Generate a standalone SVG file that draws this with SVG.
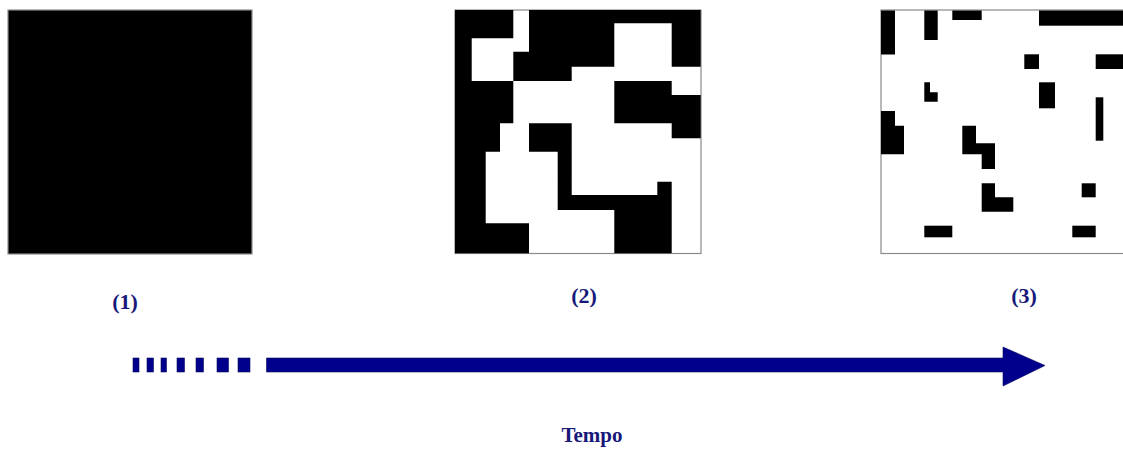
<svg xmlns="http://www.w3.org/2000/svg" width="1123" height="452" viewBox="0 0 1123 452">
  <style>
    .frame { fill: #ffffff; stroke: #8a8a8a; stroke-width: 1.2; }
    .blk { fill: #000000; }
    .lbl { font-family: "Liberation Serif", "Times New Roman", serif; font-weight: bold; fill: #18187a; text-anchor: middle; }
    .arr { fill: #00008c; stroke: #0a0a60; stroke-width: 0.6; }
  </style>
  <rect x="0" y="0" width="1123" height="452" fill="#ffffff"/>

  <g id="panel1">
    <rect x="8" y="10" width="244" height="244" fill="#000000" stroke="#8a8a8a" stroke-width="1.2"/>
  </g>

  <g id="panel2">
    <rect class="frame" x="455" y="10" width="246" height="243.5"/>
    <polygon class="blk" points="455,10 513.3,10 513.3,38.3 471.7,38.3 471.7,81 513.3,81 513.3,123.3 500,123.3 500,151.7 485.7,151.7 485.7,223.3 529,223.3 529,253.3 455,253.3"/>
    <polygon class="blk" points="529,10 700.7,10 700.7,66.7 671.7,66.7 671.7,23.3 614.3,23.3 614.3,66.7 571.7,66.7 571.7,81 513.3,81 513.3,51.7 529,51.7"/>
    <polygon class="blk" points="614.3,81 671.7,81 671.7,95 700.7,95 700.7,138.3 671.7,138.3 671.7,123.3 614.3,123.3"/>
    <polygon class="blk" points="529,123.3 571.7,123.3 571.7,195 657.3,195 657.3,181.7 671.7,181.7 671.7,253.3 614.3,253.3 614.3,210 557.7,210 557.7,151.7 529,151.7"/>
  </g>

  <g id="panel3">
    <rect class="frame" x="881" y="10" width="250" height="243.5"/>
    <rect class="blk" x="881" y="10.5" width="14" height="44"/>
    <rect class="blk" x="924.3" y="10.5" width="13.4" height="29.5"/>
    <rect class="blk" x="952.3" y="10.5" width="29.4" height="9.5"/>
    <rect class="blk" x="1039" y="10.5" width="84" height="15.2"/>
    <rect class="blk" x="1024.3" y="54.3" width="14.7" height="14.7"/>
    <rect class="blk" x="1095.7" y="54.3" width="27.3" height="14.7"/>
    <polygon class="blk" points="924.3,82.3 930,82.3 930,92.3 937.7,92.3 937.7,101.7 924.3,101.7"/>
    <rect class="blk" x="1039" y="82.3" width="16" height="26"/>
    <rect class="blk" x="1095.7" y="97.3" width="7.6" height="43.4"/>
    <polygon class="blk" points="881,111 895,111 895,125.7 904,125.7 904,154.3 881,154.3"/>
    <polygon class="blk" points="962.3,125.7 976,125.7 976,143.3 995,143.3 995,169 981.7,169 981.7,154.3 962.3,154.3"/>
    <polygon class="blk" points="981.7,183.3 995,183.3 995,197.3 1013.3,197.3 1013.3,211.7 981.7,211.7"/>
    <rect class="blk" x="1081.7" y="183.3" width="14" height="14"/>
    <rect class="blk" x="924.3" y="225.7" width="28" height="11.6"/>
    <rect class="blk" x="1072.3" y="225.7" width="23.4" height="11.6"/>
  </g>

  <g id="label1"><text class="lbl" x="125" y="309" font-size="22">(1)</text></g>
  <g id="label2"><text class="lbl" x="584" y="303" font-size="22">(2)</text></g>
  <g id="label3"><text class="lbl" x="1024" y="303" font-size="22">(3)</text></g>
  <g id="label-tempo"><text class="lbl" x="592" y="442" font-size="21">Tempo</text></g>

  <g id="connectors">
    <rect class="arr" x="133" y="358" width="6" height="14"/>
    <rect class="arr" x="147" y="358" width="6.5" height="14"/>
    <rect class="arr" x="161" y="358" width="5.5" height="14"/>
    <rect class="arr" x="177" y="358" width="7.5" height="14"/>
    <rect class="arr" x="196" y="358" width="7.5" height="14"/>
    <rect class="arr" x="217" y="358" width="11.5" height="14"/>
    <rect class="arr" x="238" y="358" width="12" height="14"/>
    <polygon class="arr" points="266.5,358 1003,358 1003,347 1045,365.5 1003,386 1003,372 266.5,372"/>
  </g>
</svg>
